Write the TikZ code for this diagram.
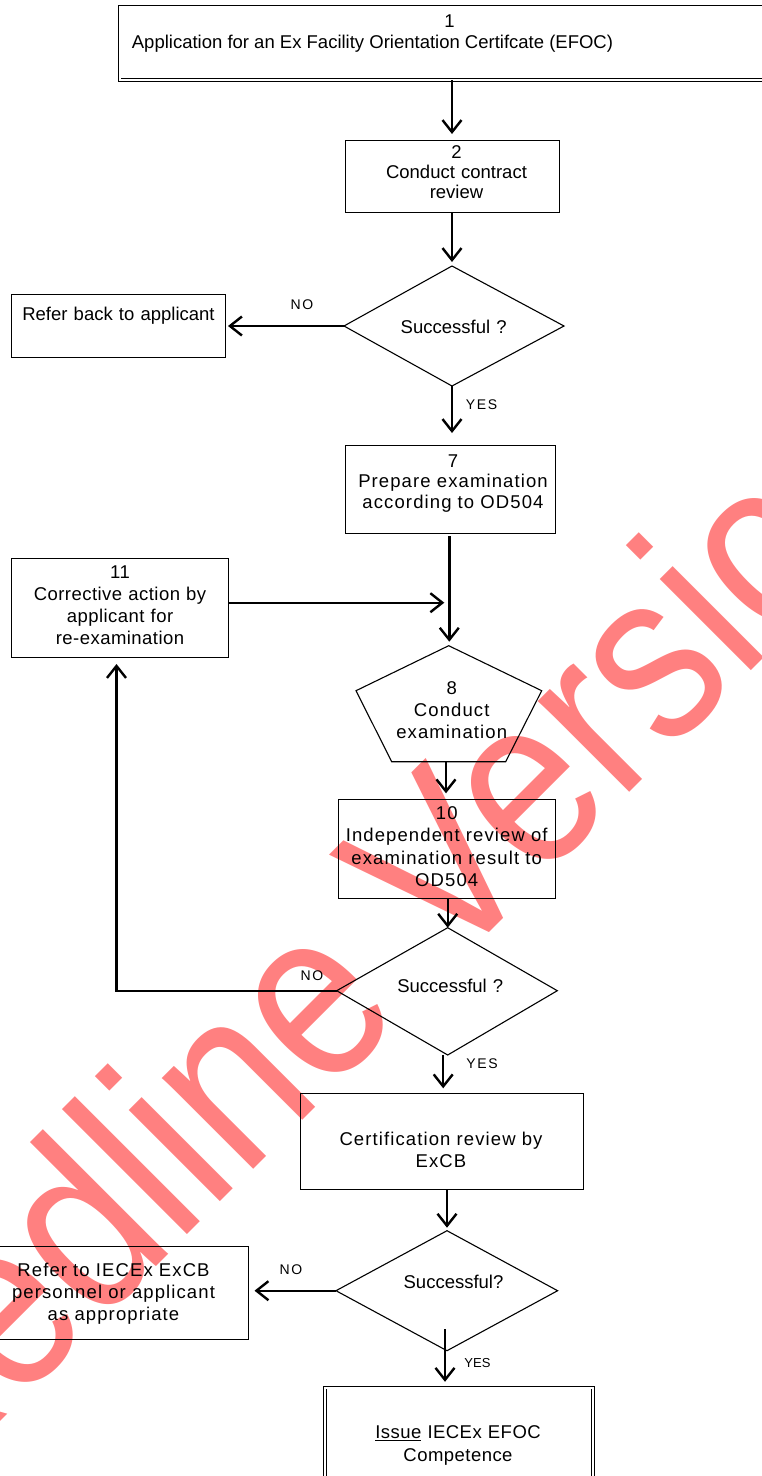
\documentclass[tikz,border=0pt]{standalone}
\usepackage{graphicx}
\usepackage{fontspec}
\setmainfont{Liberation Sans}
\newfontfamily\spA{Liberation Sans}[LetterSpace=6]
\newfontfamily\spB{Liberation Sans}[LetterSpace=2.5]
\newfontfamily\spL{Liberation Sans}[LetterSpace=12]
\usetikzlibrary{arrows.meta}
\definecolor{wmred}{RGB}{255,128,128}
\begin{document}
\begin{tikzpicture}[x=1pt,y=-1pt,
  frame/.style={draw, line width=1pt, rectangle, inner sep=0pt, outer sep=0pt},
  dframe/.style={draw, line width=0.8pt, double, double distance=2pt, rectangle, inner sep=0pt, outer sep=0pt},
  shp/.style={draw, line width=1.1pt, line join=miter},
  txt/.style={anchor=base, inner sep=0pt, align=center, text width=300pt, font=\fontsize{18.5}{22}\selectfont},
  lbl/.style={anchor=base, inner sep=0pt, font=\fontsize{14}{16}\selectfont\spL},
  arr/.style={line width=2.4pt, -{Straight Barb[length=12pt, width=19pt, line width=2.4pt]}},
  plain/.style={line width=2.4pt}]
\useasboundingbox (0,0) rectangle (762,1476);
\clip (0,0) rectangle (762,1476);
% watermark
\node[anchor=base west, rotate=45, inner sep=0pt, text=wmred] (wmk) at (-92,1514)
  {\fontsize{244}{244}\selectfont\scalebox{0.852}[1]{Redline Version}};
% box 1
\node[dframe, minimum width=670.5pt, minimum height=73.5pt] (n1) at (454.75,43.25) {};
\node[txt] (t1a) at (449.5,27) {1};
\node[anchor=base west, inner sep=0pt, font=\fontsize{18.5}{22}\selectfont] (t1b) at (131.7,48.3) {Application for an Ex Facility Orientation Certifcate (EFOC)};
% box 2
\node[frame, minimum width=213.6pt, minimum height=72.7pt] (b2) at (452.5,176.35) {};
\node[txt, font=\fontsize{18.5}{20}\selectfont] (t2) at (456.5,158.3) {2\\Conduct contract\\review};
% diamond 1
\coordinate (d1t) at (452,266);
\coordinate (d1l) at (344,326);
\coordinate (d1r) at (564,326);
\coordinate (d1b) at (452,386);
\draw[shp] (d1t) -- (d1r) -- (d1b) -- (d1l) -- cycle;
\node[txt] (d1) at (453.7,333) {Successful ?};
% refer back
\node[frame, minimum width=214pt, minimum height=63.3pt] (b3) at (118,325.65) {};
\node[txt] (t3) at (118.5,320) {Refer back to applicant};
% box 7
\node[frame, minimum width=209.3pt, minimum height=88.3pt] (b7) at (450.35,489.15) {};
\node[txt, font=\fontsize{18.5}{20.5}\selectfont\spA] (t7) at (453,467.3) {7\\Prepare examination\\according to OD504};
% box 11
\node[frame, minimum width=216.8pt, minimum height=99pt] (b11) at (120.2,607.8) {};
\node[txt, font=\fontsize{18.5}{22}\selectfont\spB] (t11) at (120,578.3) {11\\Corrective action by\\applicant for\\re-examination};
\coordinate (j1) at (449.3,602.7);
% pentagon 8
\coordinate (p8t) at (448.7,645.7);
\coordinate (p8ul) at (356,690.7);
\coordinate (p8ur) at (541.7,690.7);
\coordinate (p8ll) at (391.7,761.7);
\coordinate (p8lr) at (505.7,761.7);
\coordinate (p8b) at (446,761.7);
\draw[shp] (p8t) -- (p8ur) -- (p8lr) -- (p8ll) -- (p8ul) -- cycle;
\node[txt, font=\fontsize{18.5}{22.3}\selectfont\spA] (t8) at (451.7,694) {8\\Conduct\\examination};
% box 10
\node[frame, minimum width=217.4pt, minimum height=99pt] (b10) at (447,848.8) {};
\node[txt, font=\fontsize{18.5}{22.5}\selectfont\spA] (t10) at (446.7,819.3) {10\\Independent review of\\examination result to\\OD504};
% diamond 2
\coordinate (d2t) at (447.7,927.7);
\coordinate (d2l) at (336.7,990.7);
\coordinate (d2r) at (557.3,990.7);
\coordinate (d2b) at (447.7,1055);
\draw[shp] (d2t) -- (d2r) -- (d2b) -- (d2l) -- cycle;
\node[txt] (d2) at (450.3,992.3) {Successful ?};
% certification review
\node[frame, minimum width=282.6pt, minimum height=96pt] (bc) at (442,1141.3) {};
\node[txt, font=\fontsize{18.5}{22.3}\selectfont\spA] (tc) at (441,1145) {Certification review by\\ExCB};
% diamond 3
\coordinate (d3t) at (447,1230.7);
\coordinate (d3l) at (336,1290.7);
\coordinate (d3r) at (557.6,1290.7);
\coordinate (d3b) at (447,1350.7);
\draw[shp] (d3t) -- (d3r) -- (d3b) -- (d3l) -- cycle;
\node[txt] (d3) at (453.5,1288.3) {Successful?};
\coordinate (y3s) at (445,1329);
% refer to
\node[frame, minimum width=253.8pt, minimum height=92.3pt] (br) at (121.9,1292.85) {};
\node[txt, font=\fontsize{18.5}{22.3}\selectfont\spA] (tr) at (113.5,1276) {Refer to IECEx ExCB\\personnel or applicant\\as appropriate};
% final
\node[dframe, minimum width=268pt, minimum height=112.5pt] (bf) at (459.2,1443.75) {};
\node[txt, font=\fontsize{18.5}{23.4}\selectfont\spB] (tf) at (458,1438.3) {\underline{Issue} IECEx EFOC\\Competence};
% connectors
\draw[arr, shorten >=6pt] (n1.south -| d1t) -- (b2.north -| d1t);
\draw[arr, shorten >=4pt] (b2.south -| d1t) -- (d1t);
\draw[arr, shorten >=3pt] (d1l) -- (d1l -| b3.east);
\draw[arr, shorten >=12pt] (d1b) -- (d1b |- b7.north);
\draw[arr, shorten <=3pt, shorten >=4pt] (b7.south -| j1) -- (j1 |- p8t);
\draw[arr, shorten >=5pt] (b11.east |- j1) -- (j1);
\draw[arr, shorten >=6pt] (p8b) -- (p8b |- b10.north);
\draw[arr] (b10.south -| d2t) -- (d2t);
\draw[arr, shorten >=6.7pt] (d2l) -| ([xshift=-3.7pt]b11.south);
\draw[arr, shorten >=5pt] ([xshift=-4.5pt]d2b) -- ([xshift=-4.5pt]d2b |- bc.north);
\draw[arr, shorten >=3pt] (bc.south -| d3t) -- (d3t);
\draw[arr, shorten >=5.7pt] (d3l) -- (d3l -| br.east);
\draw[arr, shorten >=5.7pt] (y3s) -- (y3s |- bf.north);
% labels
\node[lbl] (no1) at (302,309.3) {NO};
\node[lbl] (yes1) at (481.5,409.3) {YES};
\node[lbl] (no2) at (312,980) {NO};
\node[lbl] (yes2) at (482,1068.3) {YES};
\node[lbl] (no3) at (291,1274.3) {NO};
\node[anchor=base, inner sep=0pt, font=\fontsize{13}{15}\selectfont] (yes3) at (477.5,1367.7) {YES};
\end{tikzpicture}
\end{document}
